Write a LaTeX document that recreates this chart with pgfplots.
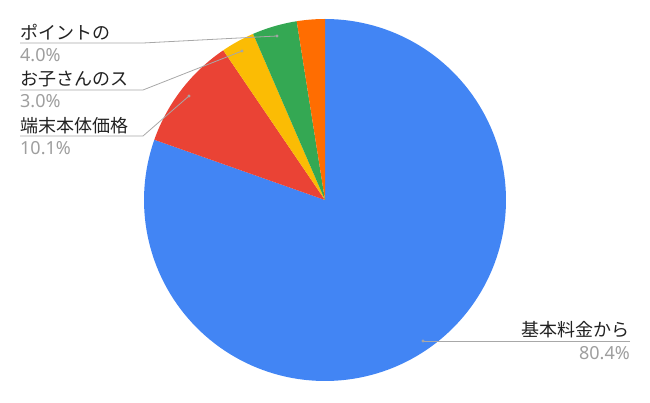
\documentclass[border=0pt]{standalone}
\usepackage{pgfplots}
\pgfplotsset{compat=1.18}
\usepackage{fontspec}
\setmainfont{Noto Sans}
\newfontfamily\jp{Noto Sans CJK JP}
\definecolor{cBlue}{HTML}{4285F4}
\definecolor{cRed}{HTML}{EA4335}
\definecolor{cYellow}{HTML}{FBBC04}
\definecolor{cGreen}{HTML}{34A853}
\definecolor{cOrange}{HTML}{FF6D01}
\definecolor{cText}{HTML}{222222}
\definecolor{cPct}{HTML}{9E9E9E}
\definecolor{cLine}{HTML}{A8A8A8}
\definecolor{cDot}{HTML}{8A8A8A}
% slice values (percent), clockwise from 12 o'clock
\def\vA{80.4}% 基本料金から
\def\vB{10.1}% 端末本体価格
\def\vC{3.0}%  お子さんのス
\def\vD{4.0}%  ポイントの
\def\vE{2.5}%  (unlabelled)
\pgfmathsetmacro\aA{90}
\pgfmathsetmacro\aB{\aA-3.6*\vA}
\pgfmathsetmacro\aC{\aB-3.6*\vB}
\pgfmathsetmacro\aD{\aC-3.6*\vC}
\pgfmathsetmacro\aE{\aD-3.6*\vD}
\pgfmathsetmacro\aF{\aE-3.6*\vE}
\newcommand\jpf{\jp\fontsize{18bp}{21bp}\selectfont}
\newcommand\pcf{\fontsize{18bp}{21bp}\selectfont}
\begin{document}
\begin{tikzpicture}
\begin{axis}[hide axis, scale only axis, width=650bp, height=402bp,
  xmin=0, xmax=650, ymin=0, ymax=402, clip=false]
\path (axis cs:0,0) rectangle (axis cs:650,402);
\addplot[fill=cBlue, draw=none, domain=\aB:\aA, samples=150, variable=\t]
  ({325+181*cos(\t)}, {202+181*sin(\t)}) -- (axis cs:325,202) -- cycle;
\addplot[fill=cRed, draw=none, domain=\aC:\aB, samples=40, variable=\t]
  ({325+181*cos(\t)}, {202+181*sin(\t)}) -- (axis cs:325,202) -- cycle;
\addplot[fill=cYellow, draw=none, domain=\aD:\aC, samples=20, variable=\t]
  ({325+181*cos(\t)}, {202+181*sin(\t)}) -- (axis cs:325,202) -- cycle;
\addplot[fill=cGreen, draw=none, domain=\aE:\aD, samples=20, variable=\t]
  ({325+181*cos(\t)}, {202+181*sin(\t)}) -- (axis cs:325,202) -- cycle;
\addplot[fill=cOrange, draw=none, domain=\aF:\aE, samples=20, variable=\t]
  ({325+181*cos(\t)}, {202+181*sin(\t)}) -- (axis cs:325,202) -- cycle;
% leader lines
\addplot[cLine, line width=0.8bp, mark=*, mark indices={3}, mark size=1.1bp,
  mark options={fill=cDot, draw=none}] coordinates {(20,359) (143,359) (277,366)};
\addplot[cLine, line width=0.8bp, mark=*, mark indices={3}, mark size=1.1bp,
  mark options={fill=cDot, draw=none}] coordinates {(20,312) (143,312) (242,351)};
\addplot[cLine, line width=0.8bp, mark=*, mark indices={3}, mark size=1.1bp,
  mark options={fill=cDot, draw=none}] coordinates {(20,266) (143,266) (189,306)};
\addplot[cLine, line width=0.8bp, mark=*, mark indices={2}, mark size=1.1bp,
  mark options={fill=cDot, draw=none}] coordinates {(630,61) (423,61)};
% labels
\node[anchor=base west, inner sep=0, text=cText, font=\jpf] at (axis cs:20,362.5) {ポイントの};
\node[anchor=base west, inner sep=0, text=cPct, font=\pcf] at (axis cs:20,340) {4.0\%};
\node[anchor=base west, inner sep=0, text=cText, font=\jpf] at (axis cs:20,316) {お子さんのス};
\node[anchor=base west, inner sep=0, text=cPct, font=\pcf] at (axis cs:20,294) {3.0\%};
\node[anchor=base west, inner sep=0, text=cText, font=\jpf] at (axis cs:20,269.5) {端末本体価格};
\node[anchor=base west, inner sep=0, text=cPct, font=\pcf] at (axis cs:20,247.5) {10.1\%};
\node[anchor=base east, inner sep=0, text=cText, font=\jpf] at (axis cs:630,66) {基本料金から};
\node[anchor=base east, inner sep=0, text=cPct, font=\pcf] at (axis cs:630,42.5) {80.4\%};
\end{axis}
\end{tikzpicture}
\end{document}
